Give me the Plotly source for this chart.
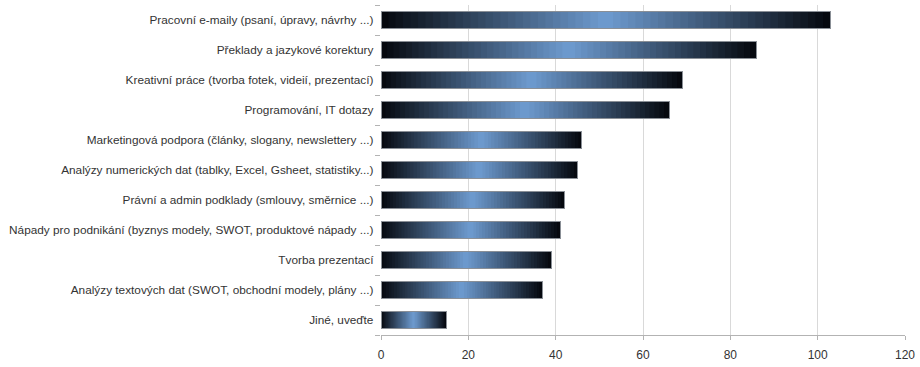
import plotly.graph_objects as go

categories = [
    "Pracovní e-maily (psaní, úpravy, návrhy ...)",
    "Překlady a jazykové korektury",
    "Kreativní práce (tvorba fotek, videií, prezentací)",
    "Programování, IT dotazy",
    "Marketingová podpora (články, slogany, newslettery ...)",
    "Analýzy numerických dat (tablky, Excel, Gsheet, statistiky...)",
    "Právní a admin podklady (smlouvy, směrnice ...)",
    "Nápady pro podnikání (byznys modely, SWOT, produktové nápady ...)",
    "Tvorba prezentací",
    "Analýzy textových dat (SWOT, obchodní modely, plány ...)",
    "Jiné, uveďte",
]
values = [103, 86, 69, 66, 46, 45, 42, 41, 39, 37, 15]
x_ticks = [0, 20, 40, 60, 80, 100, 120]

DARK = (4, 7, 12)
LIGHT = (110, 155, 208)
N_SEG = 60

fig = go.Figure()

def seg_color(i):
    t = (i + 0.5) / N_SEG
    s = 1 - abs(2 * t - 1)
    c = [round(DARK[k] + s * (LIGHT[k] - DARK[k])) for k in range(3)]
    return f"rgb({c[0]},{c[1]},{c[2]})"

for i in range(N_SEG):
    col = seg_color(i)
    fig.add_trace(go.Bar(
        y=categories,
        x=[v / N_SEG for v in values],
        orientation="h",
        marker=dict(color=col, line=dict(width=0.6, color=col)),
        hoverinfo="skip",
        showlegend=False,
        yaxis="y",
    ))

# outline
fig.add_trace(go.Bar(
    y=categories,
    x=values,
    orientation="h",
    marker=dict(color="rgba(0,0,0,0)", line=dict(color="#8a8f96", width=1)),
    showlegend=False,
    yaxis="y2",
    hovertemplate="%{y}: %{x}<extra></extra>",
))

font = dict(family="Liberation Sans, Arial, sans-serif", size=12, color="#333333")
yfont = dict(family="Liberation Sans, Arial, sans-serif", size=11.8, color="#333333")

fig.update_layout(
    width=920, height=367,
    margin=dict(l=381, r=14, t=5, b=30),
    paper_bgcolor="white",
    plot_bgcolor="white",
    barmode="stack",
    bargap=0.45,
    font=font,
    xaxis=dict(
        range=[0, 120],
        tickvals=x_ticks,
        showgrid=True,
        gridcolor="#d9d9d9",
        gridwidth=1,
        zeroline=False,
        showline=True,
        linecolor="#b3b3b3",
        ticks="outside",
        ticklen=4,
        tickcolor="#b3b3b3",
        tickfont=font,
        ticklabelstandoff=5,
        fixedrange=True,
    ),
    yaxis=dict(
        categoryorder="array",
        categoryarray=categories[::-1],
        autorange=False,
        range=[-0.5, len(categories) - 0.5],
        ticks="outside",
        tickson="boundaries",
        ticklen=5,
        tickcolor="#b3b3b3",
        showline=False,
        showgrid=False,
        tickfont=yfont,
        ticksuffix="  ",
        fixedrange=True,
    ),
    yaxis2=dict(
        overlaying="y",
        categoryorder="array",
        categoryarray=categories[::-1],
        autorange=False,
        range=[-0.5, len(categories) - 0.5],
        showticklabels=False,
        showgrid=False,
        ticks="",
        fixedrange=True,
    ),
)

fig.write_html(
    "out.html",
    config={"displayModeBar": False},
    post_script="document.body.style.margin='0';document.body.style.overflow='hidden';",
)
